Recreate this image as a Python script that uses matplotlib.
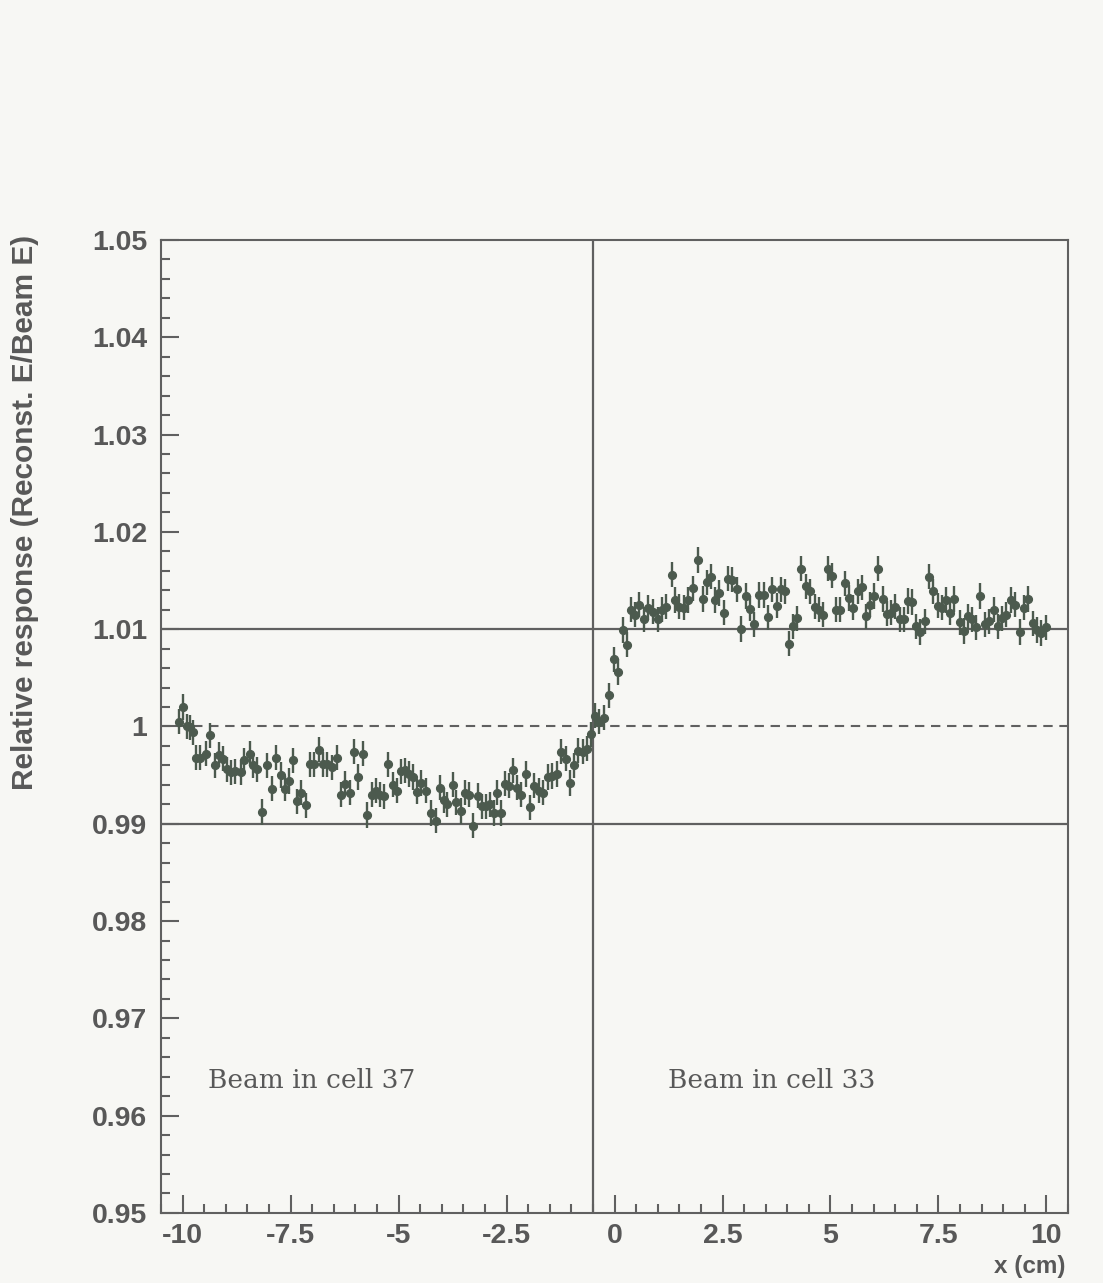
import matplotlib
matplotlib.use("Agg")
import matplotlib.pyplot as plt
import numpy as np

# ---- data ----
x_pos = [-10.09, -10.00, -9.90, -9.83, -9.76, -9.68, -9.59, -9.47, -9.37, -9.26,
         -9.16, -9.06, -8.97, -8.88, -8.78, -8.66, -8.57, -8.45, -8.37, -8.27,
         -8.16, -8.04, -7.94, -7.84, -7.73, -7.62, -7.54, -7.45, -7.35, -7.25,
         -7.14, -7.05, -6.96, -6.84, -6.75, -6.65, -6.55, -6.43, -6.34, -6.24,
         -6.13, -6.03, -5.94, -5.82, -5.72, -5.62, -5.53,
         -5.43, -5.34, -5.25, -5.14, -5.04, -4.95, -4.86, -4.76, -4.66, -4.57,
         -4.47, -4.36, -4.24, -4.14, -4.05, -3.96, -3.87, -3.75, -3.66, -3.56,
         -3.47, -3.37, -3.27, -3.17, -3.08, -2.98, -2.88, -2.79, -2.73, -2.63,
         -2.54, -2.44, -2.36, -2.26, -2.17, -2.05, -1.95, -1.86, -1.75, -1.65,
         -1.54, -1.44, -1.34, -1.24, -1.13, -1.03, -0.93, -0.84, -0.74, -0.64,
         -0.55, -0.46,
         -0.35, -0.24, -0.12, -0.01, 0.09, 0.20, 0.29, 0.39, 0.47, 0.57,
         0.69, 0.78, 0.88, 1.00, 1.09, 1.19, 1.32, 1.41, 1.50, 1.61,
         1.71, 1.82, 1.94, 2.04, 2.13, 2.23, 2.33, 2.43, 2.53, 2.62,
         2.73, 2.84, 2.93, 3.04, 3.14, 3.24, 3.34, 3.45, 3.55, 3.65,
         3.75, 3.85, 3.95, 4.03, 4.13, 4.23, 4.32, 4.43, 4.53, 4.63,
         4.73, 4.83, 4.94, 5.03, 5.13, 5.23, 5.34, 5.44, 5.53, 5.63,
         5.72, 5.82, 5.92, 6.00, 6.11, 6.21, 6.31, 6.40, 6.50, 6.60,
         6.70, 6.79, 6.89, 6.98, 7.08, 7.18, 7.29, 7.38, 7.49, 7.58,
         7.68, 7.77, 7.87, 7.99, 8.08, 8.18, 8.27, 8.37, 8.47, 8.57,
         8.68, 8.78, 8.88, 8.97, 9.07, 9.17, 9.28, 9.38, 9.48, 9.57,
         9.69, 9.79, 9.88, 10.00]

response = [1.0005, 1.0020, 1.0000, 0.9999, 0.9994, 0.9968, 0.9968, 0.9972, 0.9991, 0.9960,
            0.9971, 0.9967, 0.9956, 0.9953, 0.9954, 0.9953, 0.9965, 0.9972, 0.9960, 0.9956,
            0.9912, 0.9960, 0.9936, 0.9968, 0.9950, 0.9936, 0.9944, 0.9965, 0.9923, 0.9932,
            0.9919, 0.9961, 0.9961, 0.9976, 0.9961, 0.9961, 0.9958, 0.9968, 0.9930, 0.9941,
            0.9932, 0.9974, 0.9948, 0.9972, 0.9909, 0.9930, 0.9934,
            0.9930, 0.9928, 0.9961, 0.9940, 0.9934, 0.9954, 0.9955, 0.9951, 0.9948, 0.9933,
            0.9942, 0.9934, 0.9911, 0.9903, 0.9937, 0.9924, 0.9920, 0.9940, 0.9922, 0.9913,
            0.9932, 0.9930, 0.9898, 0.9929, 0.9918, 0.9918, 0.9920, 0.9911, 0.9932, 0.9911,
            0.9941, 0.9939, 0.9955, 0.9937, 0.9930, 0.9951, 0.9917, 0.9939, 0.9934, 0.9932,
            0.9948, 0.9949, 0.9951, 0.9974, 0.9967, 0.9942, 0.9960, 0.9975, 0.9974, 0.9977,
            0.9992, 1.0011,
            1.0005, 1.0009, 1.0032, 1.0069, 1.0056, 1.0099, 1.0084, 1.0120, 1.0115, 1.0125,
            1.0110, 1.0122, 1.0118, 1.0110, 1.0120, 1.0123, 1.0156, 1.0130, 1.0123, 1.0122,
            1.0130, 1.0142, 1.0171, 1.0131, 1.0148, 1.0154, 1.0130, 1.0137, 1.0117, 1.0152,
            1.0151, 1.0141, 1.0100, 1.0134, 1.0121, 1.0105, 1.0135, 1.0135, 1.0112, 1.0141,
            1.0124, 1.0141, 1.0139, 1.0085, 1.0103, 1.0111, 1.0162, 1.0144, 1.0139, 1.0123,
            1.0120, 1.0115, 1.0162, 1.0155, 1.0120, 1.0120, 1.0147, 1.0132, 1.0122, 1.0139,
            1.0143, 1.0113, 1.0125, 1.0134, 1.0162, 1.0131, 1.0116, 1.0117, 1.0123, 1.0110,
            1.0110, 1.0129, 1.0128, 1.0103, 1.0097, 1.0108, 1.0154, 1.0139, 1.0124, 1.0122,
            1.0130, 1.0117, 1.0131, 1.0107, 1.0098, 1.0113, 1.0110, 1.0102, 1.0134, 1.0105,
            1.0108, 1.0120, 1.0103, 1.0111, 1.0115, 1.0130, 1.0125, 1.0097, 1.0122, 1.0131,
            1.0106, 1.0099, 1.0096, 1.0102]

ERR = 0.0013
x_ticks = [-10, -7.5, -5, -2.5, 0, 2.5, 5, 7.5, 10]
x_tick_labels = ["-10", "-7.5", "-5", "-2.5", "0", "2.5", "5", "7.5", "10"]
y_ticks = [0.95, 0.96, 0.97, 0.98, 0.99, 1.0, 1.01, 1.02, 1.03, 1.04, 1.05]
y_tick_labels = ["0.95", "0.96", "0.97", "0.98", "0.99", "1", "1.01", "1.02", "1.03", "1.04", "1.05"]
boundary_x = -0.5
ref_levels = [0.99, 1.01]
unit_level = 1.0
labels = ["Beam in cell 37", "Beam in cell 33"]

# ---- styling ----
BG = "#f7f7f4"
AX = "#606060"
TXT = "#585858"
PT = "#4c5a4e"

fig = plt.figure(figsize=(11.03, 12.83), dpi=100, facecolor=BG)
ax = fig.add_axes([0.146, 0.0546, 0.8223, 0.7584], facecolor=BG)

ax.set_xlim(-10.5, 10.5)
ax.set_ylim(0.95, 1.05)

for lev in ref_levels:
    ax.axhline(lev, color=AX, lw=1.6, zorder=1)
ax.axhline(unit_level, color=AX, lw=1.5, ls=(0, (4.5, 3.2)), zorder=1)
ax.axvline(boundary_x, color=AX, lw=1.6, zorder=1)

ax.errorbar(x_pos, response, yerr=ERR, fmt="o", ms=5.6, color=PT, mec=PT,
            mfc=PT, elinewidth=1.7, capsize=0, zorder=3)

for s in ax.spines.values():
    s.set_color(AX)
    s.set_linewidth(1.5)

ax.set_xticks(x_ticks)
ax.set_xticklabels(x_tick_labels)
ax.set_yticks(y_ticks)
ax.set_yticklabels(y_tick_labels)
ax.xaxis.set_minor_locator(matplotlib.ticker.MultipleLocator(0.5))
ax.yaxis.set_minor_locator(matplotlib.ticker.MultipleLocator(0.002))
ax.tick_params(axis="both", which="major", direction="in", length=13, width=1.5,
               color=AX, labelcolor=TXT, labelsize=20.5, top=False, right=False)
ax.tick_params(axis="both", which="minor", direction="in", length=6.5, width=1.5,
               color=AX, top=False, right=False)
ax.tick_params(axis="x", which="major", pad=7)
ax.tick_params(axis="y", which="major", pad=10)
for lab in ax.get_xticklabels() + ax.get_yticklabels():
    lab.set_fontweight("bold")
    lab.set_fontfamily("Liberation Sans")

ax.set_ylabel("Relative response (Reconst. E/Beam E)", loc="top", fontsize=21.5,
              fontweight="bold", color=TXT, family="Liberation Sans")
ax.yaxis.set_label_coords(-0.135, 1.005)
ax.set_xlabel("x (cm)", loc="right", fontsize=17.5, fontweight="bold", color=TXT,
              family="Liberation Sans")
ax.xaxis.set_label_coords(0.997, -0.043)

ax.text(0.052, 0.128, labels[0], transform=ax.transAxes, fontsize=19,
        family="DejaVu Serif", color=TXT, va="baseline", ha="left")
ax.text(0.559, 0.128, labels[1], transform=ax.transAxes, fontsize=19,
        family="DejaVu Serif", color=TXT, va="baseline", ha="left")

fig.savefig("out.png", dpi=100, facecolor=BG)
